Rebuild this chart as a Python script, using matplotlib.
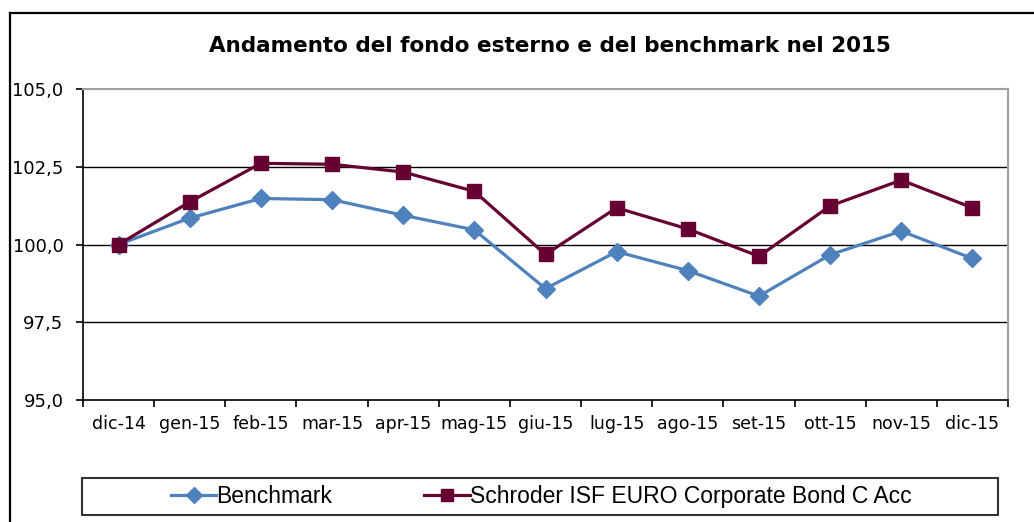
import numpy as np
import matplotlib
matplotlib.use('Agg')
import matplotlib.pyplot as plt
from matplotlib.lines import Line2D
from matplotlib.patches import Rectangle

months = ['dic-14', 'gen-15', 'feb-15', 'mar-15', 'apr-15', 'mag-15', 'giu-15',
          'lug-15', 'ago-15', 'set-15', 'ott-15', 'nov-15', 'dic-15']
benchmark = [100.0, 100.85, 101.48, 101.44, 100.94, 100.47, 98.58,
             99.77, 99.16, 98.34, 99.67, 100.43, 99.55]
schroder = [100.0, 101.37, 102.61, 102.58, 102.33, 101.71, 99.68,
            101.18, 100.50, 99.62, 101.24, 102.07, 101.18]
yticks = [95.0, 97.5, 100.0, 102.5, 105.0]

W, H = 1034, 522
fig = plt.figure(figsize=(W / 100, H / 100), dpi=100)
fig.patch.set_facecolor('white')

# outer frame (left and top edges visible in the screenshot)
fig.add_artist(Line2D([10 / W, 10 / W], [0, 1 - 13 / H], color='black', lw=1.6))
fig.add_artist(Line2D([10 / W, 1], [1 - 13 / H, 1 - 13 / H], color='black', lw=1.6))

ax = fig.add_axes([83 / W, 1 - 400 / H, (1008 - 83) / W, (400 - 89) / H])
x = np.arange(len(months))

ax.plot(x, benchmark, color='#4F81BD', lw=2.3, marker='D', ms=9.5,
        label='Benchmark', zorder=3)
ax.plot(x, schroder, color='#660033', lw=2.3, marker='s', ms=10.5,
        label='Schroder ISF EURO Corporate Bond C Acc', zorder=4)

ax.set_xlim(-0.5, len(months) - 0.5)
ax.set_ylim(95, 105)
ax.set_yticks(yticks)
ax.set_yticklabels([f'{v:.1f}'.replace('.', ',') for v in yticks])
for v in yticks[1:-1]:
    ax.axhline(v, color='black', lw=1.0, zorder=1)

ax.set_xticks(np.arange(-0.5, len(months), 1.0))
ax.set_xticklabels([])
ax.set_xticks(x, minor=True)
ax.set_xticklabels(months, minor=True)
ax.tick_params(axis='x', which='minor', length=0, pad=11, labelsize=12.5)
ax.tick_params(axis='x', which='major', length=5, width=1.2, direction='out')
ax.tick_params(axis='y', length=5, width=1.2, direction='out', pad=9, labelsize=13)

for s in ['left', 'bottom']:
    ax.spines[s].set_color('black')
    ax.spines[s].set_linewidth(1.2)
for s in ['top', 'right']:
    ax.spines[s].set_color('#A0A0A0')
    ax.spines[s].set_linewidth(1.5)

fig.text(550 / W, 1 - 46 / H, 'Andamento del fondo esterno e del benchmark nel 2015',
         ha='center', va='center', fontsize=15.5, fontweight='bold')

# legend box
fig.add_artist(Rectangle((82 / W, 1 - 515 / H), (998 - 82) / W, 37 / H,
                         transform=fig.transFigure, fill=False,
                         edgecolor='#333333', lw=1.5))
fig.legend(loc='center', bbox_to_anchor=(541 / W, 1 - 496.5 / H), ncol=2,
           frameon=False, prop={'family': 'Liberation Sans', 'size': 16.5},
           handlelength=2.0, handletextpad=0.0, columnspacing=4.0,
           markerscale=0.85)

fig.savefig('out.png', dpi=100)
